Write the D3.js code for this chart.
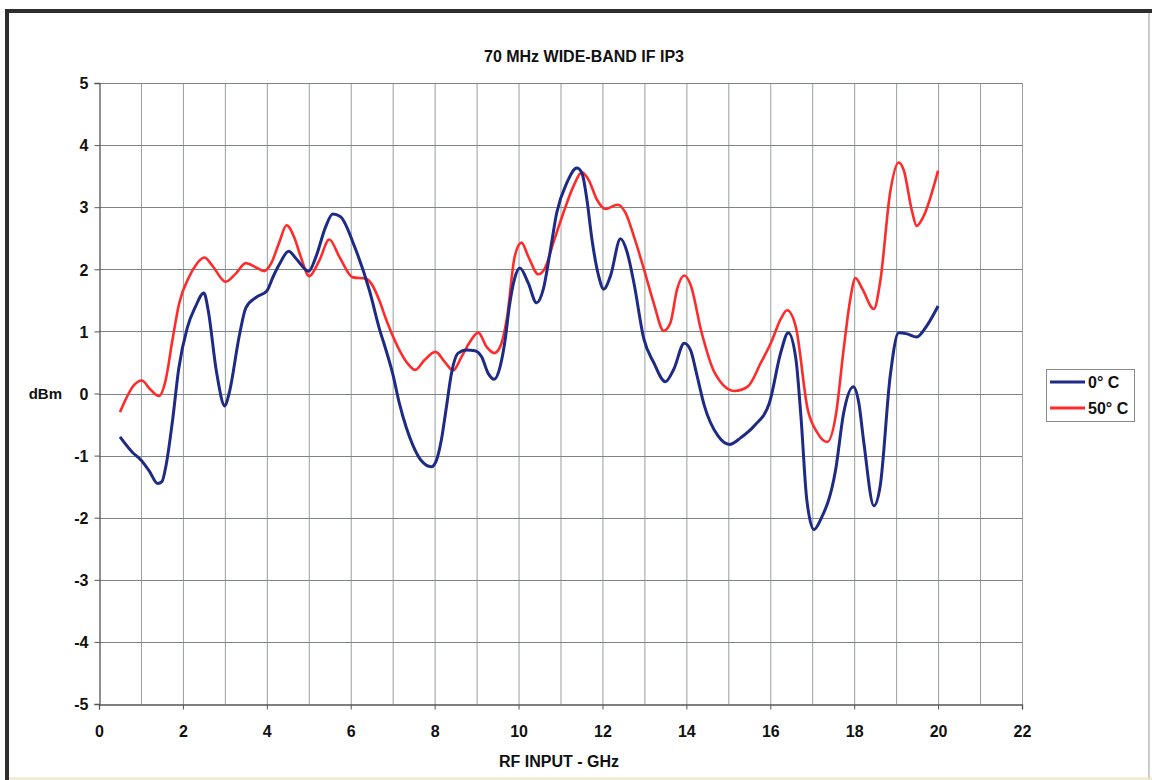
<!DOCTYPE html>
<html>
<head>
<meta charset="utf-8">
<script src="https://cdn.jsdelivr.net/npm/d3@7"></script>
<style>
  html, body { margin: 0; padding: 0; background: #fff; }
  svg { display: block; }
  text { font-family: "Liberation Sans", Arial, sans-serif; font-weight: bold; fill: #111; }
</style>
</head>
<body>
<svg id="chart" width="1152" height="780"></svg>
<script>
// ---- Data ----
const title = "70 MHz WIDE-BAND IF IP3";
const xTitle = "RF INPUT - GHz";
const yTitle = "dBm";
const seriesNames = ["0\u00B0 C", "50\u00B0 C"];

const xTicks = [0, 2, 4, 6, 8, 10, 12, 14, 16, 18, 20, 22];
const yTicks = [-5, -4, -3, -2, -1, 0, 1, 2, 3, 4, 5];

const freq0C = [0.5, 0.8, 1.0, 1.2, 1.4, 1.5, 1.6, 1.75, 1.9, 2.1, 2.3, 2.5, 2.6, 2.8, 3.0, 3.1, 3.35, 3.5, 3.75, 4.0,
  4.15, 4.3, 4.52, 4.7, 5.0, 5.17, 5.4, 5.57, 5.75, 6.1, 6.45, 6.68, 6.84, 7.0, 7.16, 7.32, 7.48, 7.68, 7.92, 8.04,
  8.16, 8.28, 8.4, 8.56, 8.76, 8.96, 9.12, 9.28, 9.42, 9.56, 9.68, 9.78, 9.91, 10.03, 10.23, 10.43, 10.59, 10.75, 10.91, 11.15,
  11.39, 11.51, 11.63, 11.75, 11.91, 12.03, 12.19, 12.43, 12.59, 12.75, 12.99, 13.22, 13.5, 13.7, 13.95, 14.1, 14.25, 14.43, 14.75, 15.03,
  15.3, 15.62, 15.98, 16.25, 16.43, 16.61, 16.73, 16.87, 17.04, 17.2, 17.56, 17.75, 17.98, 18.11, 18.23, 18.47, 18.62, 18.86, 19.06, 19.26,
  19.49, 19.73, 20.0];
const ip3_0C = [-0.7, -0.95, -1.07, -1.25, -1.45, -1.42, -1.15, -0.45, 0.4, 1.05, 1.4, 1.62, 1.35, 0.35, -0.2, 0.0, 0.95, 1.38, 1.55, 1.65,
  1.88, 2.08, 2.29, 2.17, 1.97, 2.2, 2.68, 2.89, 2.85, 2.35, 1.65, 1.05, 0.7, 0.32, -0.16, -0.54, -0.83, -1.08, -1.18, -1.08,
  -0.75, -0.22, 0.32, 0.65, 0.7, 0.69, 0.59, 0.32, 0.23, 0.43, 0.86, 1.4, 1.86, 2.02, 1.78, 1.46, 1.68, 2.27, 2.91, 3.39,
  3.63, 3.55, 3.12, 2.48, 1.89, 1.68, 1.89, 2.49, 2.27, 1.78, 0.87, 0.5, 0.19, 0.39, 0.81, 0.7, 0.3, -0.2, -0.68, -0.82,
  -0.71, -0.52, -0.15, 0.66, 0.98, 0.56, -0.36, -1.71, -2.19, -2.03, -1.22, -0.31, 0.11, -0.15, -0.79, -1.81, -1.49, 0.29, 0.98, 0.96,
  0.91, 1.09, 1.41];

const freq50C = [0.5, 0.84, 1.02, 1.23, 1.43, 1.59, 1.75, 1.91, 2.15, 2.31, 2.51, 2.7, 3.02, 3.26, 3.5, 3.74, 3.94, 4.1, 4.3, 4.47,
  4.65, 4.81, 5.01, 5.25, 5.49, 5.73, 6.05, 6.36, 6.52, 6.68, 6.84, 7.0, 7.16, 7.36, 7.54, 7.76, 8.02, 8.24, 8.44, 8.64,
  8.84, 9.04, 9.24, 9.42, 9.56, 9.72, 9.91, 10.07, 10.23, 10.47, 10.63, 10.83, 11.07, 11.31, 11.51, 11.67, 11.87, 12.07, 12.36, 12.55,
  12.75, 12.99, 13.22, 13.46, 13.62, 13.78, 13.95, 14.1, 14.36, 14.67, 15.15, 15.46, 15.78, 16.02, 16.25, 16.4, 16.61, 16.89, 17.12, 17.36,
  17.56, 17.75, 17.91, 18.03, 18.19, 18.47, 18.62, 18.86, 19.06, 19.18, 19.38, 19.49, 19.65, 20.0];
const ip3_50C = [-0.3, 0.14, 0.21, 0.06, -0.04, 0.22, 0.86, 1.45, 1.88, 2.07, 2.19, 2.06, 1.8, 1.93, 2.1, 2.03, 1.97, 2.09, 2.44, 2.71,
  2.52, 2.2, 1.89, 2.14, 2.48, 2.2, 1.87, 1.85, 1.74, 1.5, 1.2, 0.93, 0.7, 0.48, 0.38, 0.54, 0.67, 0.51, 0.37, 0.59,
  0.83, 0.98, 0.75, 0.65, 0.75, 1.2, 2.21, 2.43, 2.21, 1.92, 2.02, 2.43, 2.91, 3.34, 3.56, 3.44, 3.12, 2.97, 3.04, 2.91,
  2.53, 2.0, 1.46, 1.01, 1.14, 1.68, 1.9, 1.75, 0.99, 0.34, 0.04, 0.11, 0.5, 0.82, 1.2, 1.34, 1.07, -0.25, -0.63, -0.78,
  -0.36, 0.72, 1.53, 1.86, 1.69, 1.36, 1.8, 3.25, 3.72, 3.6, 2.93, 2.7, 2.85, 3.59];

const seriesColors = ["#1e2b86", "#ff2b2b"];

// ---- Drawing ----
const svg = d3.select("#chart");
const plot = { left: 99, right: 1022, top: 83, bottom: 704 };

// outer frame (scanned page border)
svg.append("path")
  .attr("d", "M7,780 L7,11 L1152,11")
  .attr("fill", "none").attr("stroke", "#2e2e2e").attr("stroke-width", 4);
svg.append("line")
  .attr("x1", 1149).attr("x2", 1149).attr("y1", 13).attr("y2", 780)
  .attr("stroke", "#bbb").attr("stroke-width", 1.5);
svg.append("line")
  .attr("x1", 9).attr("x2", 1152).attr("y1", 778.5).attr("y2", 778.5)
  .attr("stroke", "#eee6c8").attr("stroke-width", 2);

const x = d3.scaleLinear().domain([0, 22]).range([plot.left, plot.right]);
const y = d3.scaleLinear().domain([-5, 5]).range([plot.bottom, plot.top]);

// grid
const g = svg.append("g");
g.selectAll(".vgrid").data(d3.range(1, 23)).enter().append("line")
  .attr("x1", d => x(d) + 0.5).attr("x2", d => x(d) + 0.5)
  .attr("y1", plot.top).attr("y2", plot.bottom)
  .attr("stroke", "#9a9e9e").attr("stroke-width", 1);
g.selectAll(".hgrid").data(yTicks.filter(d => d > -5)).enter().append("line")
  .attr("x1", plot.left).attr("x2", plot.right)
  .attr("y1", d => Math.round(y(d)) + 0.5).attr("y2", d => Math.round(y(d)) + 0.5)
  .attr("stroke", "#7f8585").attr("stroke-width", 1);

// axes
const fmt = d => String(d);
const xAxis = d3.axisBottom(x).tickValues(xTicks).tickSize(5).tickFormat(fmt);
const yAxis = d3.axisLeft(y).tickValues(yTicks).tickSize(5).tickFormat(fmt);

const gx = svg.append("g").attr("transform", `translate(0,${Math.round(plot.bottom) + 0.5})`).call(xAxis);
const gy = svg.append("g").attr("transform", `translate(${plot.left + 0.5},0)`).call(yAxis);
[gx, gy].forEach(a => {
  a.select(".domain").attr("stroke", "#555").attr("stroke-width", 1.3);
  a.selectAll(".tick line").attr("stroke", "#555");
  a.selectAll("text").attr("font-size", 16).attr("font-weight", "bold")
    .attr("font-family", "'Liberation Sans', Arial, sans-serif").attr("fill", "#111");
});
gx.selectAll("text").attr("dy", null).attr("y", 32);
gy.selectAll("text").attr("x", -11).attr("dy", "0.36em");

// lines
const line = d3.line().x(d => x(d[0])).y(d => y(d[1])).curve(d3.curveMonotoneX);
const data0 = freq0C.map((f, i) => [f, ip3_0C[i]]);
const data50 = freq50C.map((f, i) => [f, ip3_50C[i]]);

svg.append("path").datum(data50).attr("d", line)
  .attr("fill", "none").attr("stroke", seriesColors[1]).attr("stroke-width", 2.6)
  .attr("stroke-linejoin", "round");
svg.append("path").datum(data0).attr("d", line)
  .attr("fill", "none").attr("stroke", seriesColors[0]).attr("stroke-width", 3)
  .attr("stroke-linejoin", "round");

// titles
svg.append("text").attr("x", 584).attr("y", 62).attr("text-anchor", "middle")
  .attr("font-size", 16).text(title);
svg.append("text").attr("x", 559).attr("y", 767).attr("text-anchor", "middle")
  .attr("font-size", 16).text(xTitle);
svg.append("text").attr("x", 62).attr("y", y(0)).attr("dy", "0.36em").attr("text-anchor", "end")
  .attr("font-size", 15).text(yTitle);

// legend
const lg = svg.append("g");
lg.append("rect").attr("x", 1046.5).attr("y", 369.5).attr("width", 88).attr("height", 52)
  .attr("fill", "#fff").attr("stroke", "#8a8a8a").attr("stroke-width", 1);
const legendY = [382, 408];
seriesNames.forEach((name, i) => {
  lg.append("line").attr("x1", 1050).attr("x2", 1085).attr("y1", legendY[i]).attr("y2", legendY[i])
    .attr("stroke", seriesColors[i]).attr("stroke-width", 3);
  lg.append("text").attr("x", 1088).attr("y", legendY[i]).attr("dy", "0.36em")
    .attr("font-size", 16).text(name);
});
</script>
</body>
</html>
